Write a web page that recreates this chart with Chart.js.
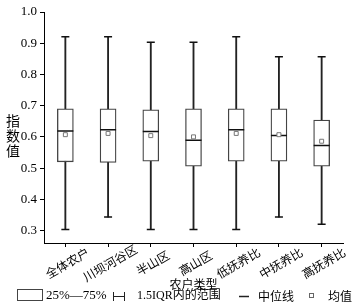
<!DOCTYPE html>
<html>
<head>
<meta charset="utf-8">
<script src="https://cdn.jsdelivr.net/npm/chart.js@4/dist/chart.umd.min.js"></script>
<style>
html,body{margin:0;padding:0;background:#fff;}
#wrap{width:359px;height:306px;position:relative;}
</style>
</head>
<body>
<div id="wrap"><canvas id="c" width="359" height="306"></canvas></div>
<script>
const categories = ['全体农户','川坝河谷区','半山区','高山区','低抚养比','中抚养比','高抚养比'];
const whiskerMin = [0.303,0.343,0.303,0.303,0.303,0.343,0.320];
const q1 = [0.520,0.518,0.522,0.506,0.522,0.522,0.506];
const median = [0.619,0.623,0.617,0.589,0.623,0.604,0.572];
const q3 = [0.690,0.690,0.687,0.690,0.690,0.690,0.654];
const whiskerMax = [0.921,0.921,0.903,0.903,0.921,0.857,0.857];
const mean = [0.607,0.611,0.604,0.600,0.611,0.607,0.586];
const yTicks = [0.3,0.4,0.5,0.6,0.7,0.8,0.9,1.0];
const yTitle = '指数值';
const xTitle = '农户类型';
const legendLabels = ['25%—75%','1.5IQR内的范围','中位线','均值'];

const serif = '"Liberation Serif", "Noto Sans CJK SC", serif';
const cjk = '"Noto Sans CJK SC", "Liberation Serif", sans-serif';

const decor = {
  id: 'decor',
  afterDraw(chart) {
    const ctx = chart.ctx;
    const xs = chart.scales.x;
    ctx.save();
    ctx.fillStyle = '#000';
    // x category labels, rotated about their centre
    ctx.font = '12px ' + cjk;
    ctx.textAlign = 'center';
    ctx.textBaseline = 'middle';
    categories.forEach((lab, i) => {
      const x = xs.getPixelForTick(i);
      ctx.save();
      ctx.translate(x + 2, 263);
      ctx.rotate(-30 * Math.PI / 180);
      ctx.fillText(lab, 0, 0);
      ctx.restore();
    });
    // y title stacked
    ctx.font = '14px ' + cjk;
    const chars = Array.from(yTitle);
    const cy = 136, step = 15;
    chars.forEach((ch, i) => {
      ctx.fillText(ch, 13, cy + (i - (chars.length - 1) / 2) * step);
    });
    // legend
    const ly = 296;
    ctx.strokeStyle = '#444';
    ctx.lineWidth = 1;
    ctx.strokeRect(17.5, 289.5, 25, 11);
    ctx.textAlign = 'left';
    ctx.font = '13px ' + serif;
    ctx.fillText(legendLabels[0], 46, ly);
    ctx.strokeStyle = '#222';
    ctx.beginPath();
    ctx.moveTo(113, ly + 0.5); ctx.lineTo(125, ly + 0.5);
    ctx.moveTo(113.5, ly - 4); ctx.lineTo(113.5, ly + 5);
    ctx.moveTo(124.5, ly - 4); ctx.lineTo(124.5, ly + 5);
    ctx.stroke();
    ctx.font = '12px ' + serif;
    ctx.fillText(legendLabels[1], 137, ly);
    ctx.lineWidth = 1.5;
    ctx.beginPath();
    ctx.moveTo(239, ly + 0.5); ctx.lineTo(249, ly + 0.5);
    ctx.stroke();
    ctx.font = '12px ' + cjk;
    ctx.fillText(legendLabels[2], 258, ly);
    ctx.lineWidth = 1;
    ctx.strokeStyle = '#666';
    ctx.strokeRect(309.5, ly - 2.5, 4, 4);
    ctx.fillText(legendLabels[3], 328, ly);
    ctx.restore();
  }
};

new Chart(document.getElementById('c'), {
  data: {
    labels: categories,
    datasets: [
      { type: 'bar', data: categories.map((c, i) => [whiskerMin[i], whiskerMax[i]]),
        backgroundColor: '#222', borderWidth: 0, barThickness: 1.2, grouped: false, order: 5 },
      { type: 'bar', data: categories.map((c, i) => [q1[i], q3[i]]),
        backgroundColor: '#fff', borderColor: '#444', borderWidth: 1.3, borderSkipped: false,
        barThickness: 16, grouped: false, order: 4 },
      { type: 'line', data: median, showLine: false, pointStyle: 'line', pointRadius: 8,
        pointBorderColor: '#111', pointBorderWidth: 1.5, order: 1 },
      { type: 'line', data: whiskerMax, showLine: false, pointStyle: 'line', pointRadius: 4,
        pointBorderColor: '#111', pointBorderWidth: 1.5, order: 1 },
      { type: 'line', data: whiskerMin, showLine: false, pointStyle: 'line', pointRadius: 4,
        pointBorderColor: '#111', pointBorderWidth: 1.5, order: 1 },
      { type: 'line', data: mean, showLine: false, pointStyle: 'rect', pointRadius: 2.8,
        pointBorderColor: '#777', pointBackgroundColor: '#fff', pointBorderWidth: 1, order: 0 }
    ]
  },
  options: {
    responsive: false,
    animation: false,
    events: [],
    layout: { padding: { left: 4, right: 16, top: 12, bottom: 14 } },
    plugins: { legend: { display: false }, tooltip: { enabled: false } },
    scales: {
      x: {
        type: 'category',
        offset: true,
        grid: { display: true, drawOnChartArea: false, drawTicks: true, tickLength: 4, color: '#000', offset: false },
        border: { display: true, color: '#000', width: 1 },
        ticks: { display: false, autoSkip: false },
        title: { display: true, text: xTitle, color: '#000', font: { family: cjk, size: 12 }, padding: 0 },
        afterFit(s) { s.height = 49; }
      },
      y: {
        type: 'linear',
        min: 0.26, max: 1.0,
        grid: { display: true, drawOnChartArea: false, drawTicks: true, tickLength: 4, color: '#000' },
        border: { display: true, color: '#000', width: 1 },
        ticks: { color: '#000', font: { family: serif, size: 13 }, padding: 3, includeBounds: false,
          callback: v => v.toFixed(1) },
        afterBuildTicks(s) { s.ticks = yTicks.map(v => ({ value: v })); },
        afterFit(s) { s.width = 40; }
      }
    }
  },
  plugins: [decor]
});
</script>
</body>
</html>
